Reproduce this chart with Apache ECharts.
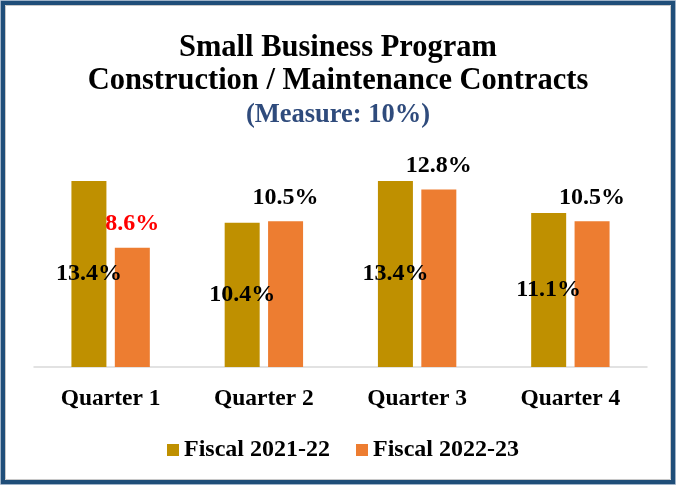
<!DOCTYPE html>
<html>
<head>
<meta charset="utf-8">
<script src="https://cdn.jsdelivr.net/npm/echarts@6/dist/echarts.min.js"></script>
<style>
html,body{margin:0;padding:0;background:#fff;}
#c{width:676px;height:485px;}
</style>
</head>
<body>
<div id="c"></div>
<script>
const categories = ['Quarter 1', 'Quarter 2', 'Quarter 3', 'Quarter 4'];
const seriesNames = ['Fiscal 2021-22', 'Fiscal 2022-23'];
const fy2122 = [13.4, 10.4, 13.4, 11.1];
const fy2223 = [8.6, 10.5, 12.8, 10.5];
const titleLines = ['Small Business Program', 'Construction / Maintenance Contracts'];
const subtitle = '(Measure: 10%)';

const FONT = '"Liberation Serif", "Times New Roman", serif';
const chart = echarts.init(document.getElementById('c'), null, {renderer: 'canvas'});
chart.setOption({
  animation: false,
  backgroundColor: '#fff',
  graphic: [
    {type: 'rect', shape: {x: 0.5, y: 0.5, width: 675, height: 484}, style: {fill: 'none', stroke: '#9fb3c8', lineWidth: 1}, z: 100},
    {type: 'rect', shape: {x: 3, y: 3, width: 670, height: 479}, style: {fill: 'none', stroke: '#1F4E79', lineWidth: 4}, z: 100},
    {type: 'rect', shape: {x: 5.5, y: 5.5, width: 665, height: 474}, style: {fill: 'none', stroke: '#c8c8c8', lineWidth: 1}, z: 100}
  ],
  title: [
    {text: titleLines.join('\n'), left: 'center', top: 27,
     textStyle: {fontFamily: FONT, fontWeight: 'bold', fontSize: 30.5, lineHeight: 33, color: '#000'}},
    {text: subtitle, left: 'center', top: 95,
     textStyle: {fontFamily: FONT, fontWeight: 'bold', fontSize: 26.5, lineHeight: 30, color: '#2F4B7C'}}
  ],
  legend: {
    data: seriesNames, left: 162, top: 433, itemWidth: 12, itemHeight: 12, itemGap: 26, icon: 'rect',
    textStyle: {fontFamily: FONT, fontWeight: 'bold', fontSize: 24, lineHeight: 24, color: '#000'}
  },
  grid: {left: 34, right: 29, top: 145, bottom: 118, containLabel: false},
  xAxis: {
    type: 'category', data: categories,
    axisLine: {lineStyle: {color: '#d9d9d9', width: 1.5}},
    axisTick: {show: false},
    axisLabel: {margin: 20, fontFamily: FONT, fontWeight: 'bold', fontSize: 23.5, color: '#000'}
  },
  yAxis: {type: 'value', min: 0, max: 16, show: false, splitLine: {show: false}},
  series: [
    {name: seriesNames[0], type: 'bar', data: fy2122, barWidth: 35, barGap: '24%',
     itemStyle: {color: '#BF9000'},
     label: {show: true, position: 'inside', formatter: p => p.value.toFixed(1) + '%',
       fontFamily: FONT, fontWeight: 'bold', fontSize: 24, color: '#000', textBorderWidth: 0}},
    {name: seriesNames[1], type: 'bar', barWidth: 35,
     data: fy2223.map((v, i) => i === 0 ? {value: v, label: {color: '#FF0000'}} : v),
     itemStyle: {color: '#ED7D31'},
     label: {show: true, position: 'top', distance: 12, formatter: p => p.value.toFixed(1) + '%',
       fontFamily: FONT, fontWeight: 'bold', fontSize: 24, color: '#000'}}
  ]
});
</script>
</body>
</html>
